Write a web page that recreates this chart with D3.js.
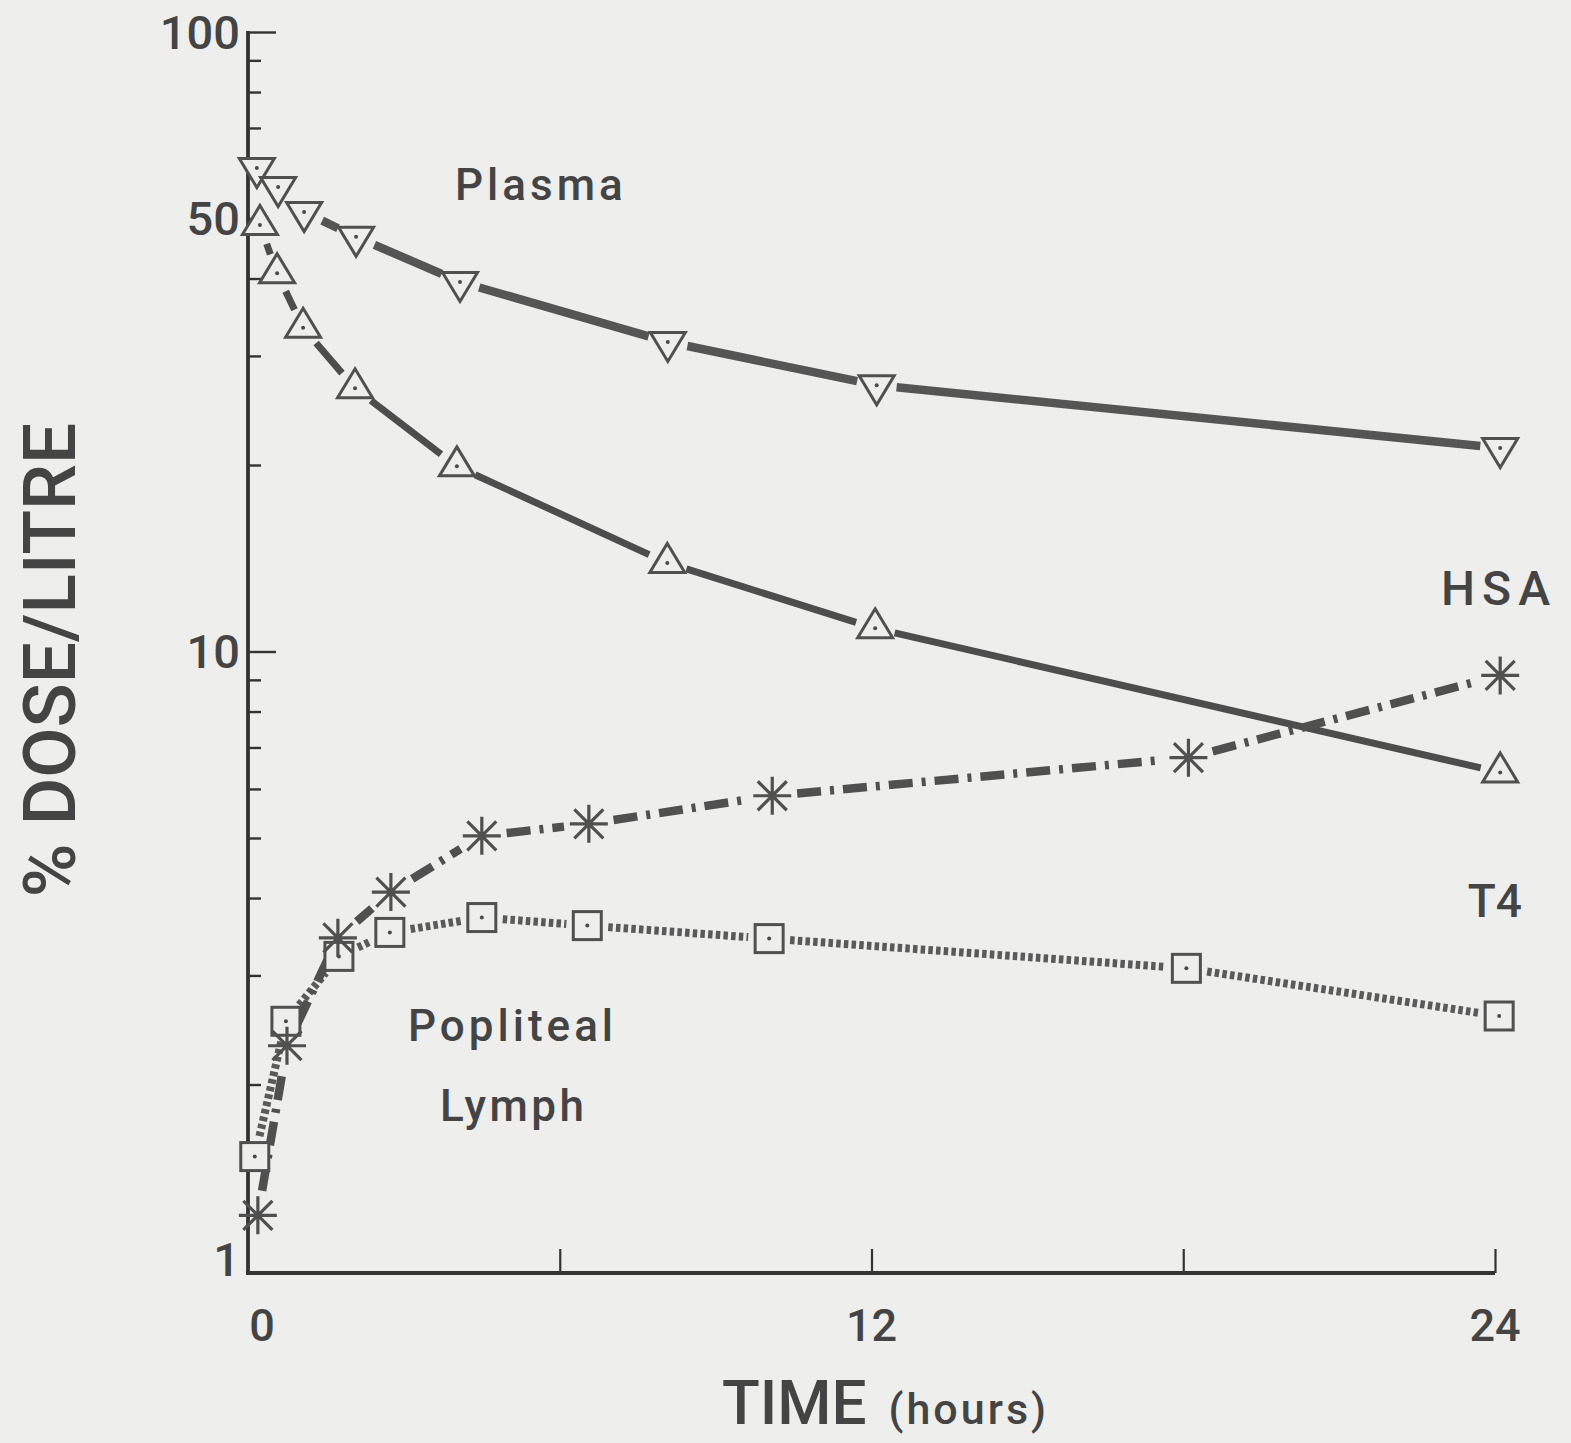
<!DOCTYPE html>
<html>
<head>
<meta charset="utf-8">
<script src="https://cdn.jsdelivr.net/npm/d3@7"></script>
<style>
  html, body { margin: 0; padding: 0; background: #eeeeec; }
  svg { display: block; }
  text { font-family: Roboto, "Open Sans", sans-serif; font-weight: 500; fill: #444; }
</style>
</head>
<body>
<svg id="chart" width="1571" height="1443"></svg>
<script>
// Time after injection (hours) and % dose per litre for each series
const plasmaTime  = [0.17, 0.58, 1.08, 2.08, 4.08, 8.08, 12.1, 24.1];
const plasmaValue = [60.3, 56.2, 51.2, 46.7, 39.5, 31.6, 26.9, 21.3];

const hsaTime  = [0.23, 0.56, 1.06, 2.06, 4.02, 8.07, 12.07, 24.1];
const hsaValue = [48.8, 40.8, 33.3, 26.6, 19.9, 13.9, 10.9, 6.38];

const t4Time  = [0.19, 0.75, 1.73, 2.75, 4.5, 6.56, 10.09, 18.1, 24.1];
const t4Value = [1.23, 2.31, 3.45, 4.09, 5.04, 5.27, 5.85, 6.74, 9.15];

const lymphTime  = [0.13, 0.73, 1.75, 2.73, 4.5, 6.53, 10.03, 18.06, 24.08];
const lymphValue = [1.53, 2.53, 3.22, 3.52, 3.72, 3.61, 3.44, 3.08, 2.58];

// Axis ticks
const yMinorTicks = [2,3,4,5,6,7,8,9,20,30,40,50,60,70,80,90];
const yMajorTicks = [10, 100];
const yTickLabels = [100, 50, 10, 1];
const xTicks = [6, 12, 18, 24];
const xTickLabels = [0, 12, 24];

const svg = d3.select("#chart");
const ink = "#4a4a4a";
const axisInk = "#333";
const bg = "#eeeeec";

const x = d3.scaleLinear().domain([0, 24]).range([248, 1495]);
const y = d3.scaleLog().domain([1, 100]).range([1271, 32]);

// ---- axes ----
const yAxisMinor = d3.axisRight(y).tickValues(yMinorTicks).tickSize(13).tickFormat("");
const yAxisMajor = d3.axisRight(y).tickValues(yMajorTicks).tickSize(28).tickFormat("");
const gy1 = svg.append("g").attr("transform", `translate(${x(0)},0)`).call(yAxisMinor);
const gy2 = svg.append("g").attr("transform", `translate(${x(0)},0)`).call(yAxisMajor);
[gy1, gy2].forEach(g => {
  g.select(".domain").remove();
  g.selectAll(".tick line").attr("stroke", axisInk).attr("stroke-width", 2.4);
});
svg.append("line")
  .attr("x1", x(0)).attr("x2", x(0))
  .attr("y1", y(100) - 1).attr("y2", y(1) + 2)
  .attr("stroke", axisInk).attr("stroke-width", 3.8);

const xAxis = d3.axisTop(x).tickValues(xTicks).tickSize(24).tickFormat("");
const gx = svg.append("g").attr("transform", `translate(0,${y(1) + 2})`).call(xAxis);
gx.select(".domain").remove();
gx.selectAll(".tick line").attr("stroke", axisInk).attr("stroke-width", 2.2);
svg.append("line")
  .attr("x1", x(0) - 2).attr("x2", x(24))
  .attr("y1", y(1) + 2).attr("y2", y(1) + 2)
  .attr("stroke", axisInk).attr("stroke-width", 4.2);

// tick labels
svg.selectAll(".ylab").data(yTickLabels).join("text")
  .attr("class", "ylab")
  .attr("x", 240)
  .attr("y", d => y(d) + (d === 1 ? -12 : 0))
  .attr("text-anchor", "end")
  .attr("dominant-baseline", "central")
  .style("font-size", "47px")
  .text(d => d);

svg.selectAll(".xlab").data(xTickLabels).join("text")
  .attr("class", "xlab")
  .attr("x", d => x(d) + (d === 0 ? 14 : 0))
  .attr("y", 1341)
  .attr("text-anchor", "middle")
  .style("font-size", "45px")
  .text(d => d);

// axis titles
const xt = svg.append("text").attr("x", 722).attr("y", 1424);
xt.append("tspan").style("font-size", "62px").text("TIME");
xt.append("tspan").attr("dx", 22).style("font-size", "43px").style("letter-spacing", "3px").text("(hours)");

svg.append("text")
  .attr("transform", "translate(75,660) rotate(-90)")
  .attr("text-anchor", "middle")
  .style("font-size", "73px")
  .text("% DOSE/LITRE");

// ---- series ----
function pts(ts, vs) { return ts.map((t, i) => [x(t), y(vs[i])]); }

// draw a polyline as separate segments, each stopping short of the markers
function drawSegments(points, gap, attrs) {
  const g = svg.append("g");
  for (let i = 0; i < points.length - 1; i++) {
    const [x1, y1] = points[i], [x2, y2] = points[i + 1];
    const len = Math.hypot(x2 - x1, y2 - y1);
    if (len <= 2 * gap + 2) continue;
    const ux = (x2 - x1) / len, uy = (y2 - y1) / len;
    const ln = g.append("line")
      .attr("x1", x1 + ux * gap).attr("y1", y1 + uy * gap)
      .attr("x2", x2 - ux * gap).attr("y2", y2 - uy * gap)
      .attr("fill", "none");
    Object.entries(attrs).forEach(([k, v]) => ln.attr(k, v));
  }
}

const plasmaPts = pts(plasmaTime, plasmaValue);
const hsaPts = pts(hsaTime, hsaValue);
const t4Pts = pts(t4Time, t4Value);
const lymphPts = pts(lymphTime, lymphValue);

drawSegments(plasmaPts, 20, {"stroke": "#555", "stroke-width": 8.5});
drawSegments(hsaPts, 20, {"stroke": "#4d4d4d", "stroke-width": 7});
drawSegments(lymphPts, 21, {"stroke": "#5a5a5a", "stroke-width": 8, "stroke-dasharray": "4.5,3.2"});
drawSegments(t4Pts, 25, {"stroke": "#505050", "stroke-width": 8.5, "stroke-dasharray": "24,9,4,9"});

// markers
function dot(g) {
  g.append("circle").attr("r", 2).attr("fill", ink);
}
function markers(points, kind) {
  const g = svg.append("g");
  points.forEach(([px, py]) => {
    const m = g.append("g").attr("transform", `translate(${px},${py})`);
    if (kind === "down") {
      m.append("path").attr("d", "M-17.5,-9.5L17.5,-9.5L0,19.5Z");
      dot(m);
    } else if (kind === "up") {
      m.append("path").attr("d", "M0,-19.5L17.5,9.5L-17.5,9.5Z");
      dot(m);
    } else if (kind === "square") {
      m.append("rect").attr("x", -14).attr("y", -14).attr("width", 28).attr("height", 28);
      dot(m);
    } else if (kind === "star") {
      const r = 19, d = 14.5;
      m.append("path")
        .attr("d", `M0,${-r}V${r}M${-r},0H${r}M${-d},${-d}L${d},${d}M${-d},${d}L${d},${-d}`);
    }
    m.selectAll("path,rect")
      .attr("fill", kind === "star" ? "none" : bg)
      .attr("stroke", "#505050")
      .attr("stroke-width", kind === "star" ? 3.2 : 3)
      .attr("stroke-linejoin", "miter");
  });
}
markers(plasmaPts, "down");
markers(hsaPts, "up");
markers(lymphPts, "square");
markers(t4Pts, "star");

// series labels
const labels = [
  {text: "Plasma", x: 455, y: 200, size: 44, ls: 4, anchor: "start"},
  {text: "HSA", x: 1557, y: 605, size: 48, ls: 7, anchor: "end"},
  {text: "T4", x: 1522, y: 917, size: 46, ls: 0, anchor: "end"},
  {text: "Popliteal", x: 408, y: 1041, size: 44, ls: 4, anchor: "start"},
  {text: "Lymph", x: 440, y: 1121, size: 44, ls: 3.5, anchor: "start"}
];
svg.selectAll(".slab").data(labels).join("text")
  .attr("class", "slab")
  .attr("x", d => d.x).attr("y", d => d.y)
  .attr("text-anchor", d => d.anchor)
  .style("font-size", d => d.size + "px")
  .style("letter-spacing", d => d.ls + "px")
  .text(d => d.text);
</script>
</body>
</html>
